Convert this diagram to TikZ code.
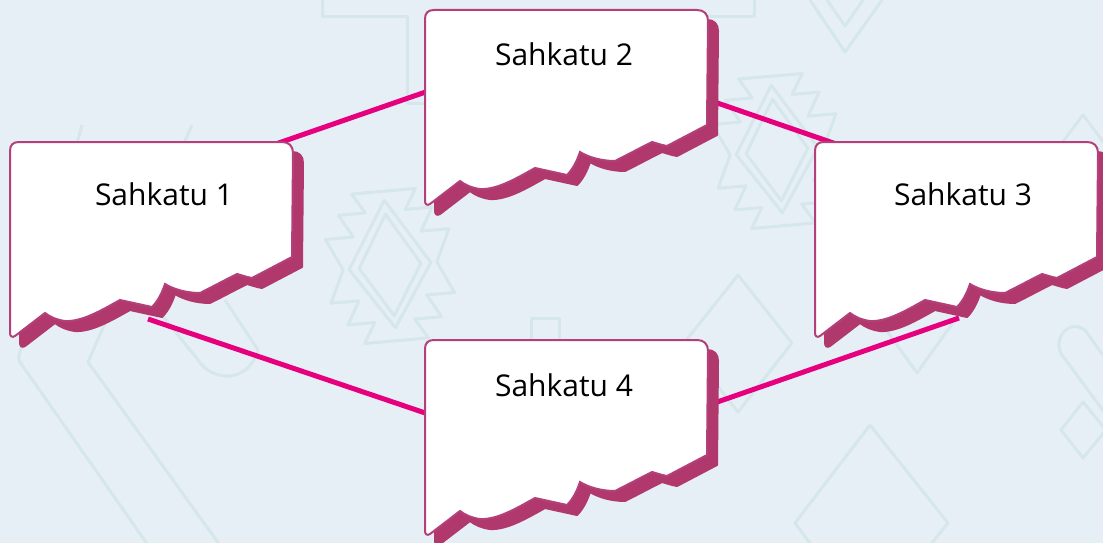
\documentclass[tikz,border=0pt]{standalone}
\usepackage{fontspec}
\setmainfont{Open Sans}
\usetikzlibrary{calc}
\definecolor{bgc}{HTML}{E6EFF6}
\definecolor{patc}{HTML}{D6E7EC}
\definecolor{shadc}{HTML}{B0386D}
\definecolor{bordc}{HTML}{B3407A}
\definecolor{linkc}{HTML}{E6007E}
\def\bubblepath{(0,9) .. controls (0,3) and (3,0) .. (9,0) -- (272,0) .. controls (279,0) and (283,4) .. (283,11) -- (282,115) -- (242,136) .. controls (236,135) and (231,133) .. (227,132) .. controls (215,138) and (202,145) .. (190,151) .. controls (176,151) and (163,147) .. (155,142) .. controls (152,151) and (148,159) .. (142,165) -- (110,158) .. controls (92,168) and (72,180) .. (55,179) .. controls (47,178) and (40,175) .. (35,171) -- (5,194) .. controls (2,196) and (0,194) .. (0,191) -- cycle}
\tikzset{
  pat/.style={draw=patc, line width=3pt, line join=round},
  conn/.style={draw=linkc, line width=5pt},
  boxnode/.style={draw=none, minimum width=283pt, minimum height=195pt, anchor=north west, inner sep=0pt},
  lbl/.style={font=\fontsize{30}{34}\selectfont, text=black, anchor=base, inner sep=0pt},
  pics/bubble/.style={code={
     \fill[shadc, draw=shadc, line width=2pt, line join=round, shift={(10,10)}] \bubblepath;
     \draw[bordc, fill=white, line width=2pt] \bubblepath;
  }},
  pics/star/.style={code={
     \draw[pat] (-32,-75) -- (32,-75) -- (20,-55) -- (47,-55) -- (34,-32) -- (62,-32) -- (47,0) -- (62,32) -- (34,32) -- (47,55) -- (20,55) -- (32,75) -- (-32,75) -- (-20,55) -- (-47,55) -- (-34,32) -- (-62,32) -- (-47,0) -- (-62,-32) -- (-34,-32) -- (-47,-55) -- (-20,-55) -- cycle;
     \draw[pat] (0,-66) -- (41,0) -- (0,62) -- (-41,0) -- cycle;
     \draw[pat] (0,-52) -- (31,0) -- (0,50) -- (-31,0) -- cycle;
  }}
}
\begin{document}
\begin{tikzpicture}[x=1pt,y=-1pt]
\fill[bgc] (0,0) rectangle (1103,543);
\useasboundingbox (0,0) rectangle (1103,543);
% box placeholders
\node[boxnode] (b1) at (10,142) {};
\node[boxnode] (b2) at (425,10) {};
\node[boxnode] (b3) at (815,142) {};
\node[boxnode] (b4) at (425,340) {};
% background pattern
\draw[pat] (322,0) -- (322,17) -- (407,17) -- (407,103) -- (440,103);
\draw[pat] (700,17) -- (754,17) -- (754,0);
\draw[pat] (810,0) -- (845,52) -- (882,0);
\draw[pat] (827,0) -- (845,26) -- (863,0);
\pic[rotate=5] at (390,266) {star};
\pic[rotate=5] at (777,151) {star};
\draw[pat] (82,125) -- (20,352) .. controls (18,358) and (18,360) .. (22,365) -- (150,548);
\draw[pat] (192,125) -- (88,362) -- (222,548);
\draw[pat] (150,300) -- (198,360) .. controls (212,382) and (248,384) .. (258,350) -- (225,300);
\draw[pat] (738,275) -- (792,343) -- (738,412) -- (684,343) -- cycle;
\draw[pat] (872,310) -- (917,373) -- (962,310);
\draw[pat] (870,425) -- (795,523) -- (830,570);
\draw[pat] (870,425) -- (948,523) -- (910,570);
\draw[pat] (1083,402) -- (1106,430) -- (1083,458) -- (1061,430) -- cycle;
\draw[pat] (1110,420) -- (1062,355) .. controls (1052,340) and (1068,318) .. (1085,330) -- (1110,365);
\draw[pat] (1058,148) -- (1083,115) -- (1108,148);
\draw[pat] (531,345) -- (531,318) -- (559,318) -- (559,345);
% connectors
\draw[conn] ($(b1.north west)+(260,4)$) -- ($(b2.north west)+(15,77)$);
\draw[conn] ($(b2.north west)+(275,87)$) -- ($(b3.north west)+(30,5)$);
\draw[conn] ($(b1.north west)+(138,177)$) -- ($(b4.north west)+(15,78)$);
\draw[conn] ($(b4.north west)+(275,68)$) -- ($(b3.north west)+(144,176)$);
% bubbles
\pic at (b1.north west) {bubble};
\pic at (b2.north west) {bubble};
\pic at (b3.north west) {bubble};
\pic at (b4.north west) {bubble};
% labels
\node[lbl] (t1) at (164,205) {Sahkatu 1};
\node[lbl] (t2) at (564,66) {Sahkatu 2};
\node[lbl] (t3) at (963,205) {Sahkatu 3};
\node[lbl] (t4) at (564,396) {Sahkatu 4};
\end{tikzpicture}
\end{document}
